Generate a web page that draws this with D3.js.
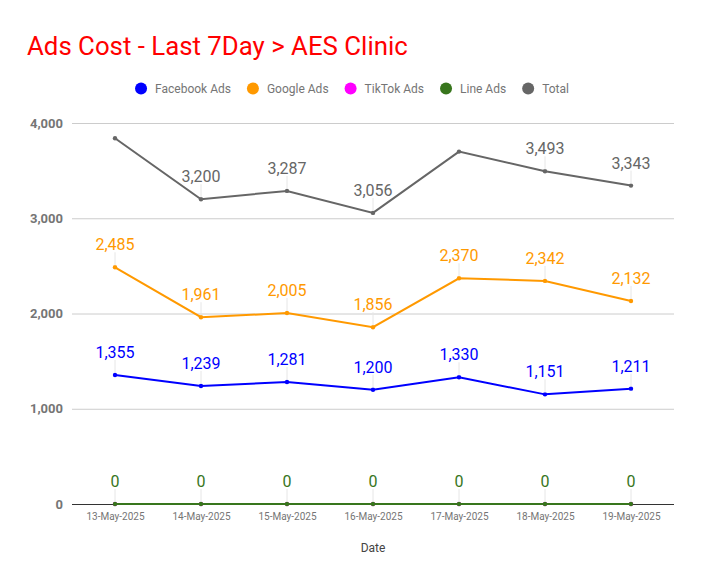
<!DOCTYPE html>
<html>
<head>
<meta charset="utf-8">
<script src="https://cdn.jsdelivr.net/npm/d3@7/dist/d3.min.js"></script>
<style>
  body { margin: 0; background: #fff; }
  svg { font-family: Roboto, "Noto Sans", sans-serif; }
</style>
</head>
<body>
<script>
// chart data
var dates = ["13-May-2025", "14-May-2025", "15-May-2025", "16-May-2025", "17-May-2025", "18-May-2025", "19-May-2025"];
var facebookAds = [1355, 1239, 1281, 1200, 1330, 1151, 1211];
var googleAds = [2485, 1961, 2005, 1856, 2370, 2342, 2132];
var tiktokAds = [0, 0, 0, 0, 0, 0, 0];
var lineAds = [0, 0, 0, 0, 0, 0, 0];
var totalCost = [3840, 3200, 3287, 3056, 3700, 3493, 3343];
var yTicks = [0, 1000, 2000, 3000, 4000];

var seriesNames = ["Facebook Ads", "Google Ads", "TikTok Ads", "Line Ads", "Total"];
var seriesColors = ["#0000ff", "#ff9900", "#ff00ff", "#38761d", "#666666"];
// which points get a value label (the colliding total ones are hidden)
var totalLabelShown = [false, true, true, true, false, true, true];

var W = 704, H = 585;
var svg = d3.select("body").append("svg").attr("width", W).attr("height", H);

var x = d3.scalePoint().domain(dates).range([72, 674]).padding(0.5);
var y = d3.scaleLinear().domain([0, 4000]).range([504, 123]);

// title
svg.append("text")
	.attr("x", 27).attr("y", 55)
	.attr("fill", "#ff0000")
	.attr("font-size", 25.8)
	.text("Ads Cost - Last 7Day > AES Clinic");

// legend, centered
var legend = svg.append("g");
var lx = 0;
seriesNames.forEach(function (name, i) {
	var g = legend.append("g").attr("transform", "translate(" + lx + ",0)");
	g.append("circle").attr("cx", 6).attr("cy", 0).attr("r", 6).attr("fill", seriesColors[i]);
	var t = g.append("text").attr("x", 20).attr("y", 4)
		.attr("font-size", 12).attr("fill", "#757575").text(name);
	lx += 20 + t.node().getComputedTextLength() + 16;
});
lx -= 16;
legend.attr("transform", "translate(" + (W / 2 - lx / 2) + ",88.5)");

// grid + y axis
var yAxis = d3.axisLeft(y).tickValues(yTicks).tickSize(-(674 - 72)).tickFormat(d3.format(","));
var yg = svg.append("g").attr("transform", "translate(72,0)").call(yAxis);
yg.select(".domain").remove();
yg.selectAll(".tick line").attr("stroke", "#cccccc");
yg.selectAll(".tick text")
	.attr("x", -9)
	.attr("font-size", 13).attr("font-weight", "bold")
	.attr("fill", "#757575")
	.attr("font-family", "Roboto, sans-serif");
yg.selectAll(".tick").filter(function (d) { return d === 0; }).select("line").attr("stroke", "#333333");

// x axis labels
var xAxis = d3.axisBottom(x).tickSize(0).tickPadding(9);
var xg = svg.append("g").attr("transform", "translate(0,504)").call(xAxis);
xg.select(".domain").remove();
xg.selectAll(".tick text").attr("font-size", 10).attr("fill", "#757575")
	.attr("font-family", "Roboto, sans-serif");

svg.append("text")
	.attr("x", 373).attr("y", 552)
	.attr("text-anchor", "middle")
	.attr("font-size", 12).attr("fill", "#444444")
	.text("Date");

var allSeries = [facebookAds, googleAds, tiktokAds, lineAds, totalCost];
var line = d3.line().x(function (d, i) { return x(dates[i]); }).y(function (d) { return y(d); });

allSeries.forEach(function (vals, s) {
	var g = svg.append("g");
	g.append("path").datum(vals)
		.attr("d", line)
		.attr("fill", "none")
		.attr("stroke", seriesColors[s])
		.attr("stroke-width", 2);
	g.selectAll("circle").data(vals).enter().append("circle")
		.attr("cx", function (d, i) { return x(dates[i]); })
		.attr("cy", function (d) { return y(d); })
		.attr("r", 2.2)
		.attr("fill", seriesColors[s]);
	if (s === 2) return; // tiktok labels sit under line ads
	var pts = vals.map(function (v, i) { return { v: v, date: dates[i], i: i }; })
		.filter(function (p) { return s !== 4 || totalLabelShown[p.i]; });
	var labs = g.selectAll("g.lab").data(pts).enter().append("g").attr("class", "lab");
	labs.append("line")
		.attr("x1", function (p) { return x(p.date); })
		.attr("x2", function (p) { return x(p.date); })
		.attr("y1", function (p) { return y(p.v) - 15; })
		.attr("y2", function (p) { return y(p.v) - 2; })
		.attr("stroke", "#e6e6e6").attr("stroke-width", 1);
	labs.append("text")
		.attr("x", function (p) { return x(p.date); })
		.attr("y", function (p) { return y(p.v) - 17; })
		.attr("text-anchor", "middle")
		.attr("font-size", 16)
		.attr("fill", seriesColors[s])
		.text(function (p) { return d3.format(",")(p.v); });
});
</script>
</body>
</html>
